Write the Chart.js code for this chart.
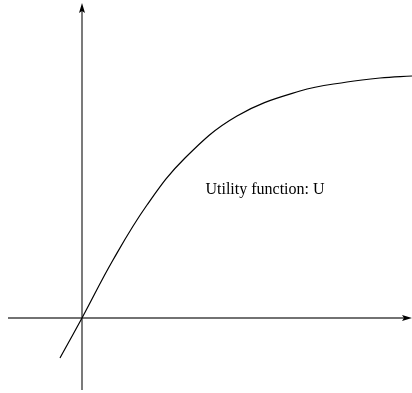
<!DOCTYPE html>
<html>
<head>
<meta charset="utf-8">
<script src="https://cdn.jsdelivr.net/npm/chart.js@4"></script>
<style>
  html, body { margin: 0; padding: 0; background: #fff; }
  #wrap { width: 412px; height: 393px; }
</style>
</head>
<body>
<div id="wrap"><canvas id="chart" width="412" height="393"></canvas></div>
<script>
// curve, origin at the axes crossing
const curveX = [-22, 0, 31, 65, 103, 155, 218, 265, 298, 330];
const curveY = [-40, 0, 58, 113, 160, 202, 227, 236, 240, 242];

// axis extents (data units)
const xAxisFrom = -74, xAxisTo = 330;
const yAxisFrom = -72, yAxisTo = 315;

const labelText = 'Utility function: U';
const labelAt = { x: 183, y: 128 };

const drawAxes = {
    id: 'drawAxes',
    beforeDatasetsDraw(chart) {
        const ctx = chart.ctx;
        const xs = chart.scales.x, ys = chart.scales.y;
        const ox = xs.getPixelForValue(0), oy = ys.getPixelForValue(0);
        const x0 = xs.getPixelForValue(xAxisFrom), x1 = xs.getPixelForValue(xAxisTo);
        const y0 = ys.getPixelForValue(yAxisFrom), y1 = ys.getPixelForValue(yAxisTo);
        ctx.save();
        ctx.strokeStyle = '#444';
        ctx.lineWidth = 1.4;
        ctx.beginPath();
        ctx.moveTo(x0, oy); ctx.lineTo(x1 - 4, oy);
        ctx.moveTo(ox, y0); ctx.lineTo(ox, y1 + 4);
        ctx.stroke();
        // arrow heads
        ctx.fillStyle = '#000';
        ctx.beginPath();
        ctx.moveTo(x1, oy); ctx.lineTo(x1 - 10, oy - 3); ctx.lineTo(x1 - 8, oy); ctx.lineTo(x1 - 10, oy + 3);
        ctx.closePath(); ctx.fill();
        ctx.beginPath();
        ctx.moveTo(ox, y1); ctx.lineTo(ox - 3, y1 + 10); ctx.lineTo(ox, y1 + 8); ctx.lineTo(ox + 3, y1 + 10);
        ctx.closePath(); ctx.fill();
        // label
        ctx.font = '16px "Liberation Serif", "Times New Roman", serif';
        ctx.fillStyle = '#000';
        ctx.textAlign = 'center';
        ctx.textBaseline = 'middle';
        ctx.fillText(labelText, xs.getPixelForValue(labelAt.x), ys.getPixelForValue(labelAt.y));
        ctx.restore();
    }
};

new Chart(document.getElementById('chart').getContext('2d'), {
    type: 'line',
    data: {
        datasets: [{
            data: curveX.map((x, i) => ({ x: x, y: curveY[i] })),
            borderColor: '#000',
            borderWidth: 1.2,
            pointRadius: 0,
            tension: 0.4,
            fill: false
        }]
    },
    options: {
        responsive: false,
        animation: false,
        layout: { padding: 0 },
        plugins: { legend: { display: false }, tooltip: { enabled: false } },
        scales: {
            x: { type: 'linear', min: -82, max: 330, display: false },
            y: { type: 'linear', min: -75, max: 318, display: false }
        }
    },
    plugins: [drawAxes]
});
</script>
</body>
</html>
